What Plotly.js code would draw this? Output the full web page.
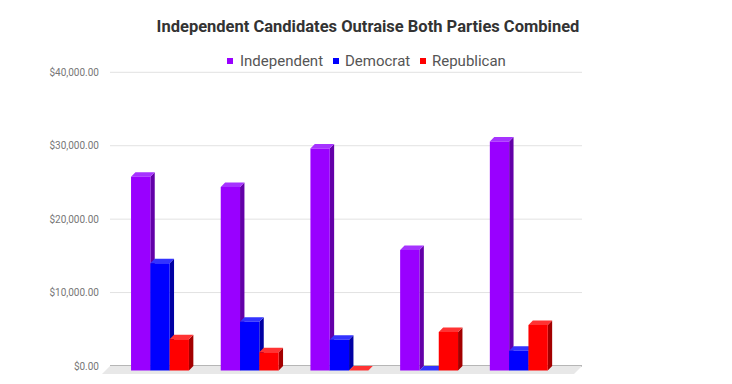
<!DOCTYPE html>
<html><head><meta charset="utf-8">
<script src="https://cdn.plot.ly/plotly-3.0.1.min.js"></script>
<style>html,body{margin:0;padding:0;background:#fff;overflow:hidden}#chart{width:732px;height:384px}</style>
</head><body><div id="chart"></div>
<script>
const categories = ["HD 13", "HD 21", "HD 23", "HD 54", "SD 23"];
const independent = [26400, 25000, 30250, 16400, 31200];
const democrat = [14600, 6650, 4200, 0, 2700];
const republican = [4250, 2500, 0, 5250, 6200];
const seriesNames = ["Independent", "Democrat", "Republican"];
const yTickVals = [0, 10000, 20000, 30000, 40000];

const palette = [
  {front: "#9900ff", side: "#6300a8", top: "#a633ff"},
  {front: "#0000ff", side: "#0000a3", top: "#3333ff"},
  {front: "#ff0000", side: "#a30000", top: "#ff3333"}
];
const seriesValues = [independent, democrat, republican];

// 3D geometry (bar width and depth in axis units)
const W = 0.2152, DX = 0.049, DY = 613;

const traces = [];
seriesValues.forEach((vals, j) => {
  const front = {x: [], y: []}, side = {x: [], y: []}, top = {x: [], y: []};
  vals.forEach((v, i) => {
    const x0 = i - 1.5 * W + j * W, x1 = x0 + W;
    const yb = -DY, yt = v - DY;
    side.x.push(x1, x1 + DX, x1 + DX, x1, x1, null);
    side.y.push(yb, 0, v, yt, yb, null);
    top.x.push(x0, x0 + DX, x1 + DX, x1, x0, null);
    top.y.push(yt, v, v, yt, yt, null);
    front.x.push(x0, x1, x1, x0, x0, null);
    front.y.push(yb, yb, yt, yt, yb, null);
  });
  const c = palette[j];
  [[side, c.side], [top, c.top], [front, c.front]].forEach(([d, col]) => {
    traces.push({type: "scatter", mode: "lines", x: d.x, y: d.y, fill: "toself",
      fillcolor: col, line: {width: 0, color: col}, hoverinfo: "skip", showlegend: false});
  });
});

// plot geometry helpers (pixels -> paper)
const PL = 100, PW = 490, PT = 64, PH = 316;
const px = p => (p - PL) / PW;
const py = p => (PT + PH - p) / PH;

const shapes = [];
// floor
shapes.push({type: "path", xref: "x", yref: "y", layer: "below",
  path: "M -0.5574 0 L 4.7046 0 L 4.6154 -1090 L -0.6466 -1090 Z",
  fillcolor: "#e8e8e8", line: {width: 0}});
// gridlines on back wall
yTickVals.forEach(v => {
  shapes.push({type: "line", xref: "paper", yref: "y", layer: "below",
    x0: px(110), x1: px(582), y0: v, y1: v,
    line: {color: v === 0 ? "#9e9e9e" : "#e2e2e2", width: v === 0 ? 1.3 : 1}});
});
// legend squares
const legendSq = [227, 333, 420];
const legendTxt = [238, 343, 430];
seriesNames.forEach((n, j) => {
  shapes.push({type: "rect", xref: "paper", yref: "paper",
    x0: px(legendSq[j]), x1: px(legendSq[j] + 6), y0: py(64), y1: py(58),
    fillcolor: palette[j].front, line: {width: 0}});
});
const annotations = seriesNames.map((n, j) => ({
  xref: "paper", yref: "paper", x: px(legendTxt[j]), y: py(61),
  xanchor: "left", yanchor: "middle", showarrow: false, text: n,
  font: {family: "Roboto", size: 15, color: "#555555"}
}));

const layout = {
  width: 732, height: 384,
  margin: {l: PL, r: 732 - PL - PW, t: PT, b: 384 - PT - PH},
  paper_bgcolor: "#ffffff", plot_bgcolor: "rgba(0,0,0,0)",
  showlegend: false,
  title: {text: "Independent Candidates Outraise Both Parties Combined",
    x: 368 / 732, xanchor: "center", y: 1 - 26 / 384, yanchor: "middle",
    font: {family: "Roboto", size: 16.5, color: "#333333", weight: "bold"}},
  xaxis: {range: [-0.6689, 4.7938], tickvals: categories.map((c, i) => i), ticktext: categories,
    showgrid: false, zeroline: false, showline: false, ticks: "", automargin: false,
    tickfont: {family: "Roboto", size: 12, color: "#444444"}, fixedrange: true},
  yaxis: {range: [-1907, 41130], tickvals: yTickVals, tickformat: "$,.2f",
    showgrid: false, zeroline: false, showline: false, ticks: "", automargin: false,
    tickfont: {family: "Roboto", size: 10, color: "#777777"}, fixedrange: true},
  shapes: shapes, annotations: annotations
};
Plotly.newPlot("chart", traces, layout, {displayModeBar: false, staticPlot: true});
</script></body></html>
